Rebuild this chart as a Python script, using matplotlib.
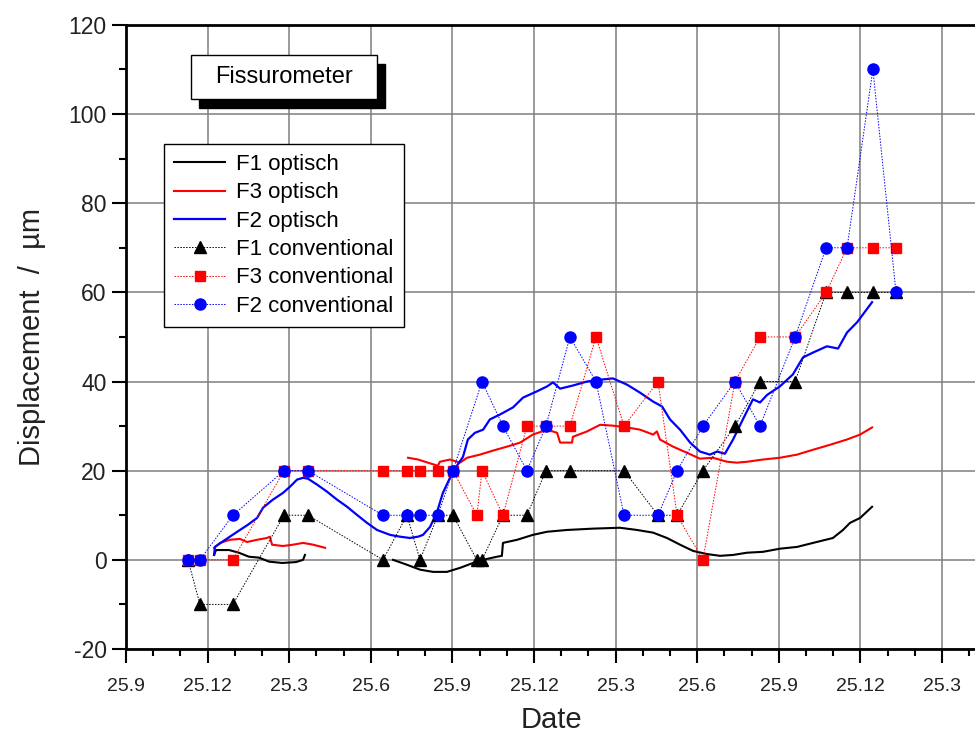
import numpy as np
import matplotlib
matplotlib.use('Agg')
import matplotlib.pyplot as plt
from matplotlib.patches import Rectangle
from matplotlib.ticker import MultipleLocator

plt.rcParams['font.family'] = ['Liberation Sans', 'DejaVu Sans']
plt.rcParams['axes.unicode_minus'] = False

# x = months after the first tick (25.9), one labelled tick every 3 months
tick_labels = ['25.9', '25.12', '25.3', '25.6', '25.9', '25.12', '25.3',
               '25.6', '25.9', '25.12', '25.3']

# optical readings (months, µm)
f1_opt_x1 = [3.24, 3.31, 3.79, 4.15, 4.52, 4.89, 5.26, 5.74, 6.25, 6.51, 6.58]
f1_opt_y1 = [1.1, 2.2, 2.2, 1.6, 0.7, 0.5, -0.4, -0.7, -0.5, 0.0, 1.1]
f1_opt_x2 = [9.82, 10.33, 10.81, 11.29, 11.80, 12.28, 12.76, 13.27, 13.64, 13.82,
             13.86, 14.38, 14.96, 15.48, 16.21, 17.17, 18.16, 18.79, 19.38, 19.89,
             20.37, 20.85, 21.36, 21.84, 22.32, 22.83, 23.42, 24.04, 24.67, 25.26,
             25.99, 26.36, 26.62, 26.99, 27.43]
f1_opt_y2 = [0.0, -1.1, -2.2, -2.7, -2.7, -1.8, -0.7, 0.2, 0.7, 0.9,
             3.8, 4.5, 5.6, 6.3, 6.7, 7.0, 7.2, 6.7, 6.1, 4.9,
             3.4, 2.0, 1.3, 0.9, 1.1, 1.6, 1.8, 2.5, 2.9, 3.8,
             4.9, 6.7, 8.3, 9.4, 11.9]

f3_opt_x1 = [3.24, 3.46, 3.82, 4.19, 4.45, 4.82, 5.18, 5.29, 5.37, 5.77, 6.14, 6.51, 6.88, 7.32]
f3_opt_y1 = [2.7, 3.8, 4.5, 4.7, 4.0, 4.5, 4.9, 5.2, 3.4, 3.1, 3.4, 3.8, 3.4, 2.7]
f3_opt_x2 = [10.37, 10.74, 11.10, 11.47, 11.54, 11.91, 12.28, 12.54, 13.01, 13.49,
             14.01, 14.49, 14.96, 15.48, 15.85, 15.96, 16.40, 16.43, 16.95, 17.43,
             17.90, 18.42, 18.90, 19.38, 19.52, 19.63, 20.11, 20.63, 21.10, 21.58,
             22.10, 22.46, 22.83, 23.42, 24.04, 24.67, 25.26, 25.88, 26.51, 26.99, 27.43]
f3_opt_y2 = [22.9, 22.5, 21.8, 21.1, 22.0, 22.5, 21.8, 22.9, 23.6, 24.5,
             25.4, 26.3, 28.1, 29.2, 28.5, 26.3, 26.3, 27.6, 28.8, 30.3,
             30.1, 29.7, 29.2, 28.1, 28.8, 27.0, 25.4, 24.0, 22.7, 22.9,
             22.0, 21.8, 22.0, 22.5, 22.9, 23.6, 24.7, 25.8, 27.0, 28.1, 29.7]

f2_opt_x = [3.24, 3.27, 3.53, 3.82, 4.19, 4.49, 4.82, 5.04, 5.40, 5.77,
            6.03, 6.29, 6.51, 6.69, 7.02, 7.39, 7.76, 8.13, 8.49, 8.86,
            9.23, 9.71, 10.07, 10.44, 10.74, 10.92, 11.18, 11.43, 11.65, 12.02,
            12.39, 12.57, 12.83, 13.13, 13.38, 13.75, 14.23, 14.60, 15.11, 15.48,
            15.70, 15.96, 16.43, 16.95, 17.43, 17.90, 18.42, 18.90, 19.38, 19.71,
            20.00, 20.37, 20.74, 21.10, 21.47, 21.73, 22.02, 22.32, 22.68, 23.05,
            23.31, 23.57, 24.04, 24.52, 24.89, 25.26, 25.77, 26.18, 26.51, 26.88,
            27.10, 27.43]
f2_opt_y = [1.1, 2.9, 4.0, 5.2, 6.7, 7.9, 9.4, 11.7, 13.5, 15.0,
            16.4, 18.0, 18.4, 18.2, 16.9, 15.3, 13.5, 11.9, 10.1, 8.3,
            6.7, 5.6, 5.2, 4.9, 5.2, 5.6, 7.4, 10.6, 15.0, 19.8,
            23.1, 27.0, 28.5, 29.2, 31.5, 32.6, 34.2, 36.4, 37.8, 38.9,
            39.8, 38.4, 39.1, 40.0, 40.4, 40.7, 39.3, 37.5, 35.5, 34.4,
            31.5, 29.2, 26.3, 24.3, 23.6, 24.3, 23.8, 27.0, 31.5, 36.0,
            35.3, 37.0, 38.9, 41.6, 45.4, 46.5, 47.9, 47.4, 51.0, 53.3,
            55.1, 57.8]

# conventional readings
f1_conv_x = [2.28, 2.72, 3.93, 5.81, 6.69, 9.45, 10.33, 10.81, 11.47, 12.02, 12.90, 13.09,
             13.86, 14.74, 15.44, 16.32, 18.31, 19.56, 20.26, 21.21, 22.39, 23.31,
             24.60, 25.74, 26.51, 27.46, 28.31]
f1_conv_y = [0, -10, -10, 10, 10, 0, 10, 0, 10, 10, 0, 0,
             10, 10, 20, 20, 20, 10, 10, 20, 30, 40,
             40, 60, 60, 60, 60]

f3_conv_x = [2.28, 2.72, 3.93, 5.81, 6.69, 9.45, 10.33, 10.81, 11.47, 12.02, 12.90, 13.09,
             13.86, 14.74, 15.44, 16.32, 17.28, 18.31, 19.56, 20.26, 21.21, 22.39, 23.31,
             24.60, 25.74, 26.51, 27.46, 28.31]
f3_conv_y = [0, 0, 0, 20, 20, 20, 20, 20, 20, 20, 10, 20,
             10, 30, 30, 30, 50, 30, 40, 10, 0, 40, 50,
             50, 60, 70, 70, 70]

f2_conv_x = [2.28, 2.72, 3.93, 5.81, 6.69, 9.45, 10.33, 10.81, 11.47, 12.02, 13.09,
             13.86, 14.74, 15.44, 16.32, 17.28, 18.31, 19.56, 20.26, 21.21, 22.39, 23.31,
             24.60, 25.74, 26.51, 27.46, 28.31]
f2_conv_y = [0, 0, 10, 20, 20, 10, 10, 10, 10, 20, 40,
             30, 20, 30, 50, 40, 10, 10, 20, 30, 40, 30,
             50, 70, 70, 110, 60]

fig = plt.figure(figsize=(9.75, 7.36), dpi=100)
ax = fig.add_axes([0.1292, 0.1182, 0.8732, 0.848])

ax.grid(True, which='major', color='#7f7f7f', linewidth=1.1, zorder=0)
ax.set_axisbelow(True)

ax.plot(f1_opt_x1, f1_opt_y1, color='black', lw=1.5, label='F1 optisch')
ax.plot(f1_opt_x2, f1_opt_y2, color='black', lw=1.5)
ax.plot(f3_opt_x1, f3_opt_y1, color='red', lw=1.5, label='F3 optisch')
ax.plot(f3_opt_x2, f3_opt_y2, color='red', lw=1.5)
ax.plot(f2_opt_x, f2_opt_y, color='blue', lw=1.6, label='F2 optisch')

dots = (0, (1.5, 1.5))
ax.plot(f1_conv_x, f1_conv_y, color='black', ls=dots, lw=0.7, marker='^', ms=8,
        label='F1 conventional')
ax.plot(f3_conv_x, f3_conv_y, color='red', ls=dots, lw=0.7, marker='s', ms=6.5,
        label='F3 conventional')
ax.plot(f2_conv_x, f2_conv_y, color='blue', ls=dots, lw=0.7, marker='o', ms=8,
        label='F2 conventional')

ax.set_xlim(0, 31.3)
ax.set_ylim(-20, 120)
ax.set_xticks(np.arange(0, 31, 3))
ax.set_xticklabels(tick_labels)
ax.xaxis.set_minor_locator(MultipleLocator(1))
ax.yaxis.set_major_locator(MultipleLocator(20))
ax.yaxis.set_minor_locator(MultipleLocator(10))

ax.tick_params(which='major', direction='out', length=10, width=1.5, color='black')
ax.tick_params(which='minor', direction='out', length=5, width=1.5, color='black')
ax.tick_params(axis='x', labelsize=14, pad=11, labelcolor='#222222')
ax.tick_params(axis='y', labelsize=16.5, pad=4, labelcolor='#222222')

for side in ['left', 'bottom', 'top']:
    ax.spines[side].set_linewidth(2)
ax.spines['right'].set_visible(False)

ax.set_xlabel('Date', fontsize=21, labelpad=8, color='#222222')
ax.set_ylabel('Displacement  /  µm', fontsize=21, labelpad=16, color='#222222')

leg = ax.legend(loc='upper left', bbox_to_anchor=(164 / 975, 1 - 144 / 736),
                bbox_transform=fig.transFigure, borderaxespad=0, fontsize=16,
                frameon=True, fancybox=False, framealpha=1, edgecolor='black',
                handlelength=2.3, handletextpad=0.5, labelspacing=0.33,
                borderpad=0.45)
leg.get_frame().set_linewidth(1.0)

# title box with drop shadow
fig.patches.append(Rectangle((199 / 975, 1 - 108 / 736), 186 / 975, 44 / 736,
                             transform=fig.transFigure, facecolor='black',
                             edgecolor='black', zorder=5))
fig.patches.append(Rectangle((191 / 975, 1 - 99 / 736), 186 / 975, 44 / 736,
                             transform=fig.transFigure, facecolor='white',
                             edgecolor='black', lw=1, zorder=6))
fig.text(284 / 975, 1 - 77 / 736, 'Fissurometer', fontsize=17, ha='center',
         va='center', zorder=7)

fig.savefig('out.png', dpi=100)
